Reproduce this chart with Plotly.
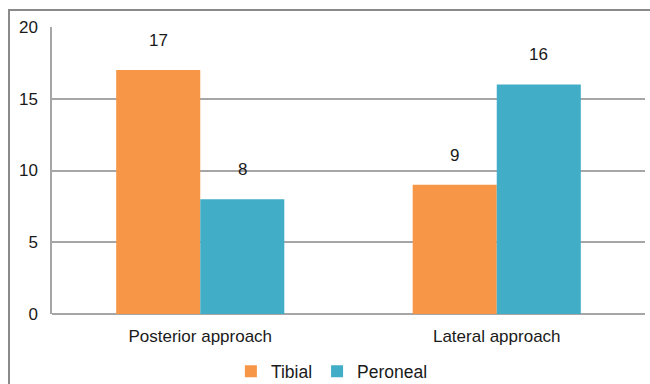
import plotly.graph_objects as go

categories = ["Posterior approach", "Lateral approach"]
tibial = [17, 9]
peroneal = [8, 16]
series_names = ["Tibial", "Peroneal"]
tick_vals = [0, 5, 10, 15, 20]

orange = "#F79646"
blue = "#42ADC7"
font = "Liberation Sans, Arial, sans-serif"

fig = go.Figure()
fig.add_trace(go.Bar(name=series_names[0], x=categories, y=tibial, marker_color=orange,
                     marker_line_width=0))
fig.add_trace(go.Bar(name=series_names[1], x=categories, y=peroneal, marker_color=blue,
                     marker_line_width=0))

# data labels
for vals, shift in ((tibial, -42), (peroneal, 42)):
    for c, v in zip(categories, vals):
        fig.add_annotation(x=c, y=v, text=str(v), showarrow=False, xshift=shift,
                           yanchor="bottom", yshift=18,
                           font=dict(size=17, color="#1a1a1a", family=font))

# outer border
fig.add_shape(type="rect", xref="paper", yref="paper", x0=-0.0725, x1=1.1,
              y0=-0.4, y1=1.059, line=dict(color="#8a8a8a", width=2),
              fillcolor="rgba(0,0,0,0)", layer="below")

fig.update_layout(
    width=650, height=384,
    margin=dict(l=52, r=5, t=27, b=70, autoexpand=False),
    paper_bgcolor="white", plot_bgcolor="white",
    barmode="group", bargap=0.433, bargroupgap=0,
    font=dict(family=font, size=17, color="#1a1a1a"),
    showlegend=True,
    legend=dict(orientation="h", x=0.472, xanchor="center", y=-0.2, yanchor="middle",
                font=dict(size=17.5, family=font, color="#1a1a1a"),
                itemwidth=30, traceorder="normal"),
    xaxis=dict(showline=False, ticks="", tickfont=dict(size=17), automargin=False,
               showgrid=False, zeroline=False, ticklabelstandoff=10),
    yaxis=dict(range=[0, 20], tickvals=tick_vals, showgrid=True, gridcolor="#A6A6A6",
               gridwidth=1.5, showline=True, linecolor="#A6A6A6", linewidth=1.5,
               zeroline=True, zerolinecolor="#A6A6A6", zerolinewidth=1.5, automargin=False,
               ticks="", ticklabelstandoff=9, tickfont=dict(size=17)),
)

fig.write_html("out.html")
